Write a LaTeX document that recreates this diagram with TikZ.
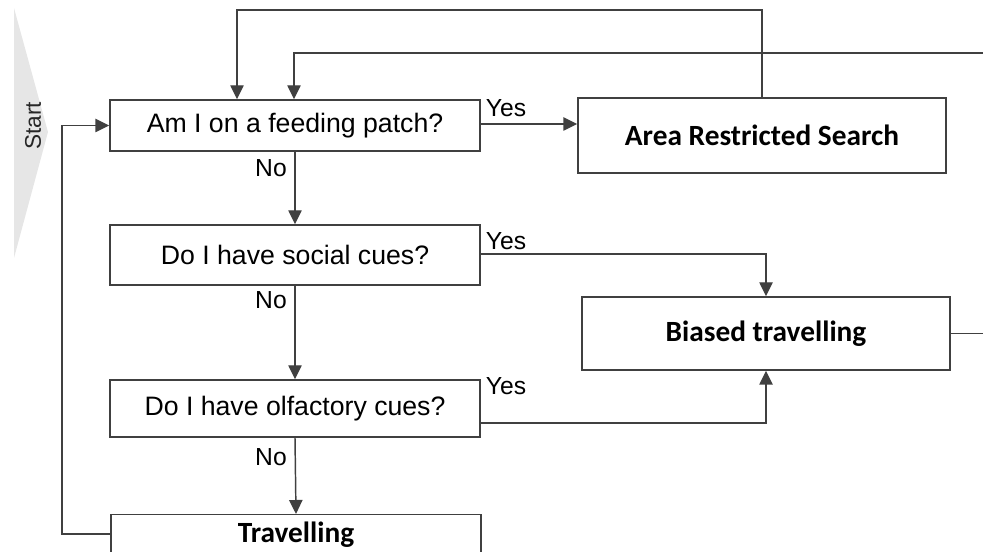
\documentclass[tikz,border=0pt]{standalone}
\usepackage{fontspec}
\setmainfont{Liberation Sans}
\newfontfamily\boldfam{Carlito}
\usetikzlibrary{arrows.meta,calc}
\definecolor{linecol}{HTML}{404040}
\definecolor{startfill}{HTML}{E6E6E6}
\tikzset{
  qbox/.style={draw=linecol, line width=1.1pt, fill=white, inner sep=0pt,
    font=\fontsize{20}{24}\selectfont},
  abox/.style={draw=linecol, line width=1.1pt, fill=white, inner sep=0pt,
    font=\boldfam\bfseries\fontsize{22}{26}\selectfont},
  conn/.style={draw=linecol, line width=1.1pt},
  arr/.style={conn, -{Triangle[length=10.5pt,width=10pt]}},
  lbl/.style={inner sep=0pt, font=\fontsize{18.5}{22}\selectfont}
}
\begin{document}
\begin{tikzpicture}[x=0.75pt,y=-0.75pt]
\useasboundingbox (0,0) rectangle (983,552);
% Start chevron
\fill[startfill] (14,8) -- (48,132) -- (14,258) -- cycle;
\node[rotate=90, inner sep=0pt, text=black!85, font=\fontsize{17}{20}\selectfont] (start) at (33,126) {Start};
% boxes
\node[qbox, minimum width=277.5pt, minimum height=38.25pt] (b1) at (295,125.5) {Am I on a feeding patch?};
\node[abox, minimum width=276pt, minimum height=56.25pt] (ars) at (762,135.5) {Area Restricted Search};
\node[qbox, minimum width=277.5pt, minimum height=45pt] (b2) at (295,255) {Do I have social cues?};
\node[abox, minimum width=276pt, minimum height=54.75pt] (bias) at (766,333.5) {Biased travelling};
\node[qbox, minimum width=277.5pt, minimum height=42.75pt] (b3) at (295,408.5) {Do I have olfactory cues?};
\node[abox, minimum width=277.5pt, minimum height=30pt, anchor=north] (trav) at (296,514) {};
\node[inner sep=0pt, font=\boldfam\bfseries\fontsize{22}{26}\selectfont] (travt) at (296,535) {Travelling};
% coordinates
\coordinate (t1) at (237,10);
\coordinate (t2) at (294,53);
\coordinate (lx) at (62,534);
% connectors
\draw[arr] (b1.east |- 0,124) -- (ars.west |- 0,124);
\draw[arr] (b2.east |- 0,254) -| (bias.north);
\draw[arr] (b3.east |- 0,423) -| (bias.south);
\draw[arr] (b1.south) -- (b2.north);
\draw[arr] (b2.south) -- (b3.north);
\draw[arr] (b3.south) -- (trav.north);
\draw[arr] (ars.north) |- (t1) -- (t1 |- b1.north);
\draw[arr] (bias.east) -- ++(60,0) |- (t2) -- (t2 |- b1.north);
\draw[arr] (trav.west |- lx) -- (lx) |- (b1.west);
% labels
\node[lbl] (y1) at (506,108) {Yes};
\node[lbl] (y2) at (506,241) {Yes};
\node[lbl] (y3) at (506,386) {Yes};
\node[lbl] (n1) at (271,168) {No};
\node[lbl] (n2) at (271,300) {No};
\node[lbl] (n3) at (271,457) {No};
\end{tikzpicture}
\end{document}
